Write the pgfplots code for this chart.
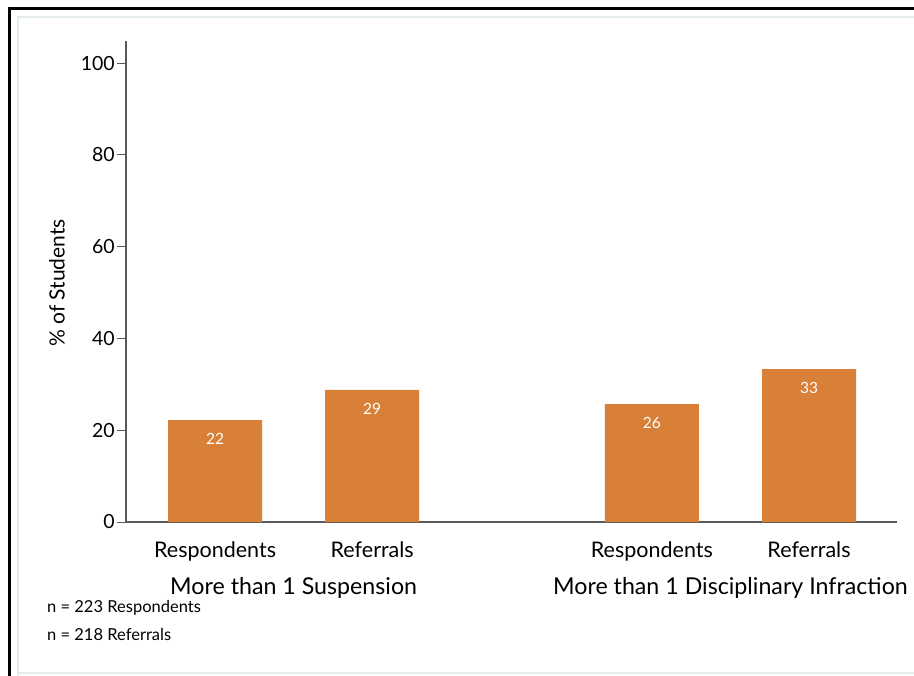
\documentclass[border=0pt]{standalone}
\usepackage{pgfplots}
\pgfplotsset{compat=1.18}
\usepackage{fontspec}
\setmainfont{Lato}
\definecolor{barorange}{RGB}{216,128,56}
\definecolor{axisgray}{RGB}{90,90,90}
\definecolor{framegray}{RGB}{230,238,236}
\begin{document}
\begin{tikzpicture}
\path[use as bounding box] (0,0) rectangle (914bp,-676bp);
\draw[framegray, line width=1.5bp] (18bp,-676bp) -- (18bp,-17bp) -- (914bp,-17bp);
\draw[framegray, line width=1.5bp] (18bp,-673bp) -- (914bp,-673bp);
\draw[black, line width=2.5bp] (9.5bp,-676bp) -- (9.5bp,-8.7bp) -- (914bp,-8.7bp);
\begin{axis}[
  at={(126bp,-522bp)}, anchor=south west,
  scale only axis, width=771bp, height=481bp,
  xmin=-0.567, xmax=4.34, ymin=0, ymax=104.8,
  axis x line=bottom, axis y line=left,
  axis line style={axisgray, line width=1.2bp, -},
  /pgf/number format/assume math mode=true,
  ytick={0,20,40,60,80,100},
  xtick={0,1,2.78,3.78},
  xticklabels={Respondents,Referrals,Respondents,Referrals},
  x tick style={draw=none},
  y tick style={axisgray, line width=1bp},
  tick align=outside, major tick length=9bp,
  yticklabel style={font=\fontsize{19.5bp}{22bp}\selectfont, inner sep=2bp},
  xticklabel style={font=\fontsize{21.5bp}{24bp}\selectfont, yshift=-7bp},
  clip=false,
]
\addplot[ybar, fill=barorange, draw=none, bar width=94bp,
  nodes near coords,
  every node near coord/.append style={font=\fontsize{15.5bp}{17bp}\selectfont, text=white, anchor=north, yshift=-9.5bp,
    /pgf/number format/fixed, /pgf/number format/precision=0}]
  coordinates {(0,22.2) (1,28.8) (2.78,25.7) (3.78,33.3)};
\node[font=\fontsize{23.2bp}{27bp}\selectfont] at (axis cs:0.5,0) [yshift=-65.5bp] {More than 1 Suspension};
\node[font=\fontsize{23.2bp}{27bp}\selectfont] at (axis cs:3.28,0) [yshift=-65.5bp] {More than 1 Disciplinary Infraction};
\end{axis}
\node[rotate=90, font=\fontsize{21bp}{24bp}\selectfont] at (57bp,-283bp) {\% of Students};
\node[anchor=west, inner sep=0pt, font=\fontsize{16.5bp}{18bp}\selectfont] at (47bp,-608bp) {n = 223 Respondents};
\node[anchor=west, inner sep=0pt, font=\fontsize{16.5bp}{18bp}\selectfont] at (47bp,-634bp) {n = 218 Referrals};
\end{tikzpicture}
\end{document}
